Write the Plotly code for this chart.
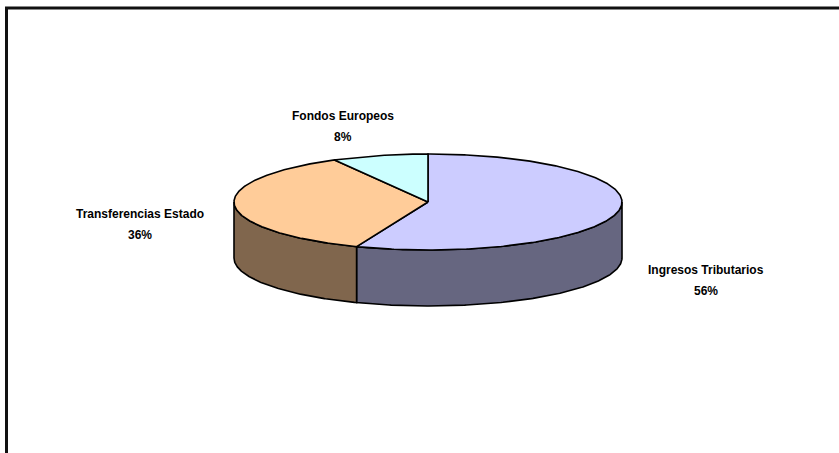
import numpy as np
import plotly.graph_objects as go

# ---- data ----
categories = ["Ingresos Tributarios", "Transferencias Estado", "Fondos Europeos"]
values = [56, 36, 8]
top_colors = ["#CCCCFF", "#FFCC99", "#CCFFFF"]
side_colors = ["#666680", "#80664D", "#668080"]

# ---- layout of the 3D pie (pixels) ----
W, H = 839, 453
cx, cy = 428, 202
rx, ry = 194, 48
depth = 56

total = sum(values)
fracs = [v / total for v in values]
starts = np.cumsum([0] + fracs[:-1]) * 360
ends = np.cumsum(fracs) * 360


def pt(theta_deg, dy=0.0):
    t = np.radians(theta_deg)
    return cx + rx * np.sin(t), cy - ry * np.cos(t) + dy


fig = go.Figure()

# side walls (front half: 90..270 degrees clockwise from top)
for i in range(len(values)):
    a0 = max(starts[i], 90)
    a1 = min(ends[i], 270)
    if a1 <= a0:
        continue
    th = np.linspace(a0, a1, 200)
    xt, yt = pt(th)
    xb, yb = pt(th[::-1], depth)
    xs = np.concatenate([xt, xb, xt[:1]])
    ys = np.concatenate([yt, yb, yt[:1]])
    fig.add_trace(go.Scatter(x=xs, y=ys, mode="lines", fill="toself",
                             fillcolor=side_colors[i],
                             line=dict(color="black", width=1.6),
                             hoverinfo="skip", showlegend=False))

# top faces
for i in range(len(values)):
    th = np.linspace(starts[i], ends[i], 300)
    xa, ya = pt(th)
    xs = np.concatenate([[cx], xa, [cx]])
    ys = np.concatenate([[cy], ya, [cy]])
    fig.add_trace(go.Scatter(x=xs, y=ys, mode="lines", fill="toself",
                             fillcolor=top_colors[i],
                             line=dict(color="black", width=1.6),
                             hoverinfo="skip", showlegend=False))

# labels
label_pos = [(706, 270), (140, 214), (343, 116)]
for i, c in enumerate(categories):
    lx, ly = label_pos[i]
    pct = round(fracs[i] * 100)
    fig.add_annotation(x=lx, y=ly, text=f"<b>{c}</b>", showarrow=False,
                       font=dict(family="Liberation Sans, Arial", size=12, color="black"))
    fig.add_annotation(x=lx, y=ly + 21, text=f"<b>{pct}%</b>", showarrow=False,
                       font=dict(family="Liberation Sans, Arial", size=12, color="black"))

# chart frame
fig.add_shape(type="rect", x0=6.5, y0=8, x1=W + 20, y1=H + 20,
              line=dict(color="#111111", width=3), layer="above")

fig.update_layout(
    width=W, height=H, autosize=False,
    margin=dict(l=0, r=0, t=0, b=0),
    paper_bgcolor="white", plot_bgcolor="white",
    xaxis=dict(range=[0, W], visible=False, fixedrange=True),
    yaxis=dict(range=[H, 0], visible=False, fixedrange=True),
    showlegend=False,
)

fig.write_html(
    "out.html",
    config={"displayModeBar": False},
    post_script="document.body.style.margin='0';document.body.style.padding='0';"
                "document.body.style.overflow='hidden';",
)
